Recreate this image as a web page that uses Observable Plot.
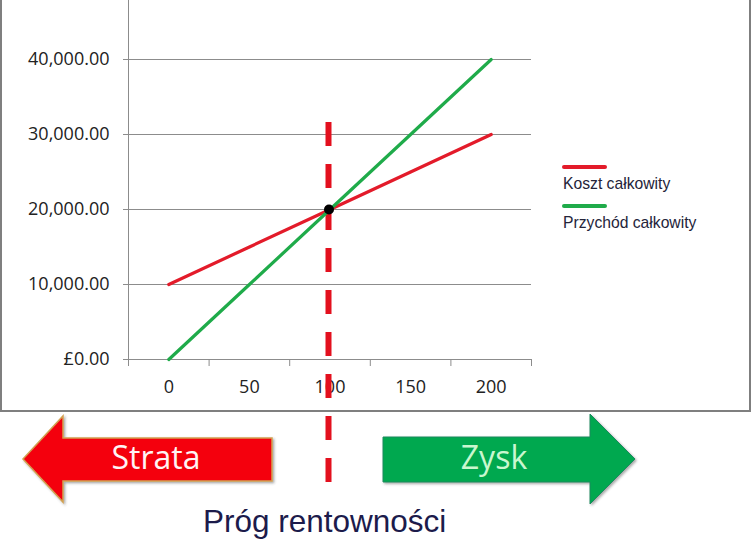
<!DOCTYPE html>
<html>
<head>
<meta charset="utf-8">
<script src="https://cdn.jsdelivr.net/npm/d3@7"></script>
<script src="https://cdn.jsdelivr.net/npm/@observablehq/plot@0.6"></script>
<style>
  html, body { margin: 0; padding: 0; background: #ffffff; }
  #wrap { position: relative; width: 752px; height: 540px; overflow: hidden; background: #ffffff; }
  #wrap > svg { position: absolute; left: 0; top: 0; }
  #overlay { pointer-events: none; }
</style>
</head>
<body>
<div id="wrap"></div>
<script>
// ---- data ----
const quantity = [0, 50, 100, 150, 200];
const totalCost = [10000, 15000, 20000, 25000, 30000];
const totalRevenue = [0, 10000, 20000, 30000, 40000];
const yTicks = [0, 10000, 20000, 30000, 40000];
const yTickLabels = ["£0.00", "10,000.00", "20,000.00", "30,000.00", "40,000.00"];
const xTickLabels = ["0", "50", "100", "150", "200"];
const seriesNames = ["Koszt całkowity", "Przychód całkowity"];
const arrowLabels = ["Strata", "Zysk"];
const titleText = "Próg rentowności";

// ---- derived table ----
const rows = quantity.map((q, i) => ({q, cost: totalCost[i], revenue: totalRevenue[i]}));
const beIndex = rows.findIndex(r => r.cost === r.revenue);
const breakEven = rows[beIndex];
const step = quantity[1] - quantity[0];
const xBounds = [...quantity.map(q => q - step / 2), quantity[quantity.length - 1] + step / 2];
const xLo = xBounds[0], xHi = xBounds[xBounds.length - 1];
const yLabelMap = new Map(yTicks.map((t, i) => [t, yTickLabels[i]]));
const xLabelMap = new Map(quantity.map((q, i) => [q, xTickLabels[i]]));

const RED = "#e31b2a";
const GREEN = "#1fab4a";
const GRID = "#8c8c8c";

const chart = Plot.plot({
  width: 752,
  height: 540,
  marginLeft: 128,
  marginRight: 221,
  marginTop: 0,
  marginBottom: 181,
  style: {background: "transparent", fontFamily: "'Open Sans', sans-serif", fontSize: "18px", color: "#222", overflow: "visible"},
  x: {type: "linear", domain: [xLo, xHi], range: [128, 531]},
  y: {domain: [0, 40000], range: [359, 59]},
  marks: [
    Plot.ruleY(yTicks, {x1: xLo, x2: xHi, stroke: GRID, strokeWidth: 1}),
    Plot.ruleX([xLo], {y1: 0, y2: 48000, stroke: GRID, strokeWidth: 1}),
    Plot.axisY({ticks: yTicks, tickFormat: d => yLabelMap.get(d), tickSize: 5, tickPadding: 14, stroke: GRID, fill: "#222", label: null}),
    Plot.axisX({ticks: xBounds, tickFormat: () => "", tickSize: 7, stroke: GRID, label: null}),
    Plot.axisX({ticks: quantity, tickFormat: d => xLabelMap.get(d), tickSize: 0, tickPadding: 21, fill: "#222", label: null}),
    Plot.ruleX([breakEven.q], {y1: 31600, y2: -16400, stroke: "#e3101e", strokeWidth: 6, strokeDasharray: "24 18", dx: -1.5}),
    Plot.line(rows, {x: "q", y: "cost", stroke: RED, strokeWidth: 3.2}),
    Plot.line(rows, {x: "q", y: "revenue", stroke: GREEN, strokeWidth: 3.2}),
    Plot.dot([breakEven], {x: "q", y: "cost", r: 5, fill: "black", stroke: "none", dx: -1})
  ]
});
document.getElementById("wrap").appendChild(chart);

// ---- decorations overlay (box, legend, arrows, caption) ----
const ns = "http://www.w3.org/2000/svg";
const ov = d3.select("#wrap").append("svg").attr("id", "overlay")
  .attr("width", 752).attr("height", 540).attr("xmlns", ns);

const defs = ov.append("defs");
const f = defs.append("filter").attr("id", "shadow").attr("x", "-10%").attr("y", "-10%").attr("width", "130%").attr("height", "130%");
f.append("feDropShadow").attr("dx", 1.5).attr("dy", 1.5).attr("stdDeviation", 1.2).attr("flood-color", "#404040").attr("flood-opacity", 0.45);

// outer box border (left, right, bottom)
ov.append("path").attr("d", "M1,-5 V411 H750 V-5").attr("fill", "none").attr("stroke", "#7f7f7f").attr("stroke-width", 2);

// legend
const legendColors = [RED, GREEN];
seriesNames.forEach((name, i) => {
  const y0 = 167 + i * 39;
  ov.append("line").attr("x1", 564).attr("x2", 605).attr("y1", y0).attr("y2", y0)
    .attr("stroke", legendColors[i]).attr("stroke-width", 4).attr("stroke-linecap", "round");
  ov.append("text").attr("x", 563).attr("y", y0 + 21.5).text(name)
    .attr("font-family", "'Liberation Sans', Arial, sans-serif").attr("font-size", 15.7).attr("fill", "#24243a");
});

// arrows
ov.append("path")
  .attr("d", "M23,459 L63,416 L63,438 L272,438 L272,481 L63,481 L63,502 Z")
  .attr("fill", "#f4000f").attr("stroke", "#d2a050").attr("stroke-width", 1.5).attr("filter", "url(#shadow)");
ov.append("text").attr("x", 156).attr("y", 469).attr("text-anchor", "middle").text(arrowLabels[0])
  .attr("font-family", "'Open Sans', sans-serif").attr("font-size", 32).attr("fill", "#fff4f4");

ov.append("path")
  .attr("d", "M383,437 L590,437 L590,414 L635,459 L590,504 L590,482 L383,482 Z")
  .attr("fill", "#00a84f").attr("stroke", "#1f8a60").attr("stroke-width", 1).attr("filter", "url(#shadow)");
ov.append("text").attr("x", 494).attr("y", 469).attr("text-anchor", "middle").text(arrowLabels[1])
  .attr("font-family", "'Open Sans', sans-serif").attr("font-size", 32).attr("fill", "#c9f7cf");

// caption (raised slightly so it is not clipped at the bottom edge)
ov.append("text").attr("x", 203).attr("y", 532).text(titleText)
  .attr("font-family", "'Liberation Sans', Arial, sans-serif").attr("font-size", 31.5).attr("fill", "#1c1b4b");
</script>
</body>
</html>
